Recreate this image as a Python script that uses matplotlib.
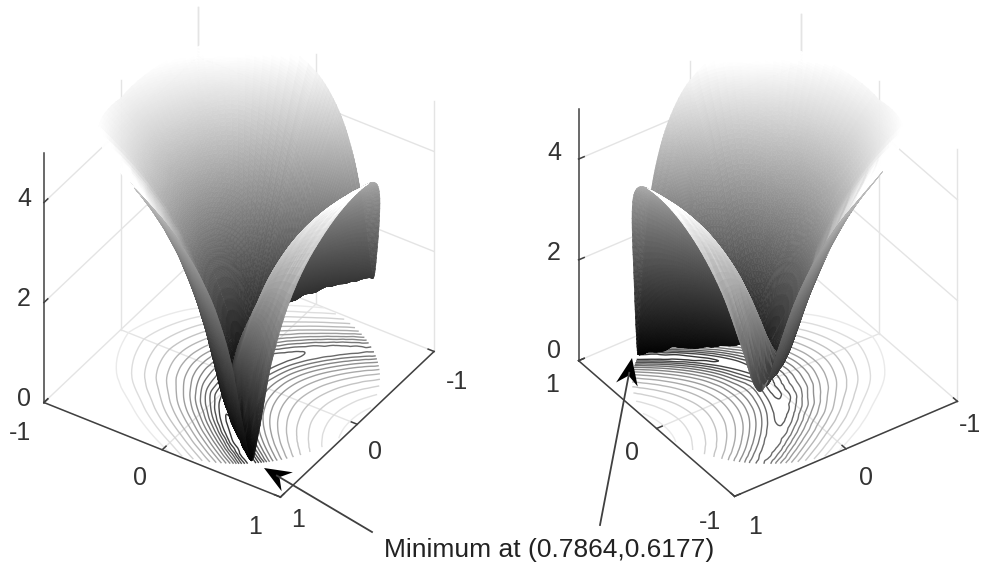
#!/usr/bin/env python3
"""Two views of a height surface over the unit disk, with contours on the floor."""

import matplotlib
matplotlib.use("Agg")
import matplotlib.pyplot as plt
import matplotlib.tri as mtri
import numpy as np
from mpl_toolkits.mplot3d.art3d import Poly3DCollection

W_PX, H_PX = 986, 565

# heights estimated on rings of the disk (rows) at fixed bearings in degrees (columns)
ring_radii = [0.0, 0.25, 0.375, 0.5, 0.625, 0.75, 0.825, 0.9, 1.0]
ring_angles = [-90, -60, -30, 0, 12, 18, 24, 30, 35, 38.2, 41, 46, 55, 70, 90,
               110, 125, 134, 139, 141.8, 145, 150, 156, 162, 168, 180, 210, 240, 270]
heights_r000 = [0.69] * 29
heights_r025 = [2.11, 1.97, 1.52, 0.67, 0.46, 0.48, 0.61, 0.80, 0.98, 1.10, 1.19, 1.37, 1.64, 1.95, 2.11,
                2.00, 1.74, 1.53, 1.40, 1.33, 1.25, 1.13, 1.02, 0.94, 0.94, 1.08, 1.69, 2.04, 2.11]
heights_r038 = [2.78, 2.68, 2.31, 1.21, 0.54, 0.35, 0.44, 0.76, 1.08, 1.28, 1.45, 1.73, 2.13, 2.57, 2.78,
                2.61, 2.23, 1.90, 1.69, 1.56, 1.43, 1.23, 1.08, 1.05, 1.16, 1.58, 2.43, 2.73, 2.78]
heights_r050 = [3.30, 3.26, 3.02, 2.01, 1.12, 0.58, 0.26, 0.54, 1.02, 1.32, 1.57, 1.96, 2.51, 3.05, 3.30,
                3.08, 2.60, 2.14, 1.85, 1.67, 1.48, 1.24, 1.14, 1.31, 1.62, 2.25, 3.10, 3.30, 3.30]
heights_r062 = [3.72, 3.74, 3.64, 2.80, 1.95, 1.32, 0.53, 0.22, 0.78, 1.21, 1.56, 2.09, 2.78, 3.43, 3.72,
                3.46, 2.87, 2.28, 1.90, 1.67, 1.44, 1.23, 1.38, 1.81, 2.25, 2.94, 3.69, 3.77, 3.72]
heights_r075 = [4.07, 4.16, 4.17, 3.49, 2.75, 2.17, 1.34, 0.29, 0.36, 0.92, 1.42, 2.12, 2.98, 3.75, 4.07,
                3.77, 3.07, 2.34, 1.86, 1.58, 1.36, 1.37, 1.88, 2.45, 2.92, 3.57, 4.21, 4.18, 4.07]
heights_r082 = [4.25, 4.38, 4.46, 3.86, 3.17, 2.64, 1.87, 0.71, 0.13, 0.65, 1.25, 2.10, 3.08, 3.91, 4.25,
                3.93, 3.16, 2.35, 1.79, 1.51, 1.35, 1.59, 2.25, 2.84, 3.30, 3.92, 4.49, 4.40, 4.25]
heights_r090 = [4.42, 4.58, 4.73, 4.20, 3.57, 3.07, 2.36, 1.26, 0.13, 0.33, 1.01, 2.04, 3.15, 4.06, 4.42,
                4.08, 3.24, 2.32, 1.70, 1.44, 1.41, 1.89, 2.63, 3.22, 3.66, 4.25, 4.75, 4.60, 4.42]
heights_r100 = [4.63, 4.84, 5.06, 4.62, 4.04, 3.59, 2.96, 1.98, 0.68, 0.05, 0.59, 1.90, 3.23, 4.24, 4.63,
                4.26, 3.31, 2.25, 1.57, 1.43, 1.66, 2.37, 3.13, 3.69, 4.11, 4.65, 5.08, 4.85, 4.63]
contour_levels = [0.3, 0.6, 0.9, 1.2, 1.5, 1.8, 2.1, 2.4, 2.7, 3.0, 3.3, 3.6, 3.9, 4.2, 4.5]
xy_ticks = [-1, 0, 1]
z_ticks = [0, 2, 4]
min_label = "Minimum at (0.7864,0.6177)"

AX_COLOR = "#404040"
GRID_COLOR = "#e4e4e4"


def build_mesh():
    r = np.array(ring_radii)
    th = np.radians(ring_angles) * 0.5
    z = np.array([heights_r000, heights_r025, heights_r038, heights_r050, heights_r062,
                  heights_r075, heights_r082, heights_r090, heights_r100])
    tt, rr = np.meshgrid(th, r)
    nr, nt = z.shape
    idx = np.arange(nr * nt).reshape(nr, nt)
    tris = []
    for i in range(nr - 1):
        for j in range(nt - 1):
            tris.append([idx[i, j], idx[i + 1, j], idx[i + 1, j + 1]])
            tris.append([idx[i, j], idx[i + 1, j + 1], idx[i, j + 1]])
    # work in (bearing, radius) so the rim stays round after refining
    base = mtri.Triangulation(tt.ravel(), rr.ravel(), np.array(tris))
    interp = mtri.CubicTriInterpolator(base, z.ravel(), kind="geom")
    fine, fine_z = mtri.UniformTriRefiner(base).refine_field(z.ravel(), triinterpolator=interp, subdiv=3)
    fine_z = np.clip(fine_z, 0.0, None)
    fx = fine.y * np.cos(fine.x * 2)
    fy = fine.y * np.sin(fine.x * 2)
    return fx, fy, fine_z, fine.triangles


def add_surface(ax, fx, fy, fz, tris, az, el, aspect_z):
    p = np.column_stack([fx, fy, fz])
    verts = p[tris]
    scale = np.array([0.5, 0.5, aspect_z / 5.0])
    v = verts * scale
    n = np.cross(v[:, 1] - v[:, 0], v[:, 2] - v[:, 0])
    length = np.linalg.norm(n, axis=1)
    length[length == 0] = 1.0
    n = n / length[:, None]
    n = n * np.where(n[:, 2] < 0, -1.0, 1.0)[:, None]
    a, e = np.radians(az), np.radians(el)
    cam = np.array([np.cos(e) * np.cos(a), np.cos(e) * np.sin(a), np.sin(e)])
    facing = n @ cam
    level = verts[:, :, 2].mean(axis=1) / 5.0
    grey = np.where(facing < 0, level * 0.75, 1.04 * level ** 1.1)
    # faces seen at a grazing angle catch the light
    glow = np.clip(1 - facing / 0.4, 0, 1)
    grey = np.where(facing > 0, grey + 0.22 * glow, grey)
    colors = plt.cm.gray(np.clip(grey, 0, 1))
    coll = Poly3DCollection(verts, facecolors=colors, edgecolors=colors, linewidths=0.35,
                            zorder=5, zsort="average")
    ax.add_collection3d(coll)


def draw_box(ax, corner_l, corner_f, corner_r, corner_b):
    """corner_* are (x, y) of the left, front, right and back floor corners."""
    zmax = 5
    grid_kw = dict(color=GRID_COLOR, lw=1.0, zorder=1, clip_on=False)
    for t in xy_ticks:
        ax.plot([t, t], [-1, 1], [0, 0], **grid_kw)
        ax.plot([-1, 1], [t, t], [0, 0], **grid_kw)
    # back walls
    for a, b in [(corner_l, corner_b), (corner_b, corner_r)]:
        a, b = np.array(a, float), np.array(b, float)
        for f in (0.0, 0.5, 1.0):
            c = a + (b - a) * f
            if f == 0.0 and tuple(a) == tuple(corner_l):
                continue
            ax.plot([c[0], c[0]], [c[1], c[1]], [0, zmax], **grid_kw)
        for z in z_ticks[1:]:
            ax.plot([a[0], b[0]], [a[1], b[1]], [z, z], **grid_kw)
    axis_kw = dict(color=AX_COLOR, lw=1.1, zorder=3, clip_on=False)
    lx, ly = corner_l
    fx, fy = corner_f
    rx, ry = corner_r
    ax.plot([lx, lx], [ly, ly], [0, zmax], **axis_kw)
    ax.plot([lx, fx], [ly, fy], [0, 0], **axis_kw)
    ax.plot([fx, rx], [fy, ry], [0, 0], **axis_kw)
    # ticks
    l, f, r = np.array(corner_l, float), np.array(corner_f, float), np.array(corner_r, float)
    inward_a = (r - f) * 0.025
    inward_b = (l - f) * 0.025
    for s in (0.0, 0.5, 1.0):
        p = l + (f - l) * s
        ax.plot([p[0], p[0] + inward_a[0]], [p[1], p[1] + inward_a[1]], [0, 0], **axis_kw)
        p = f + (r - f) * s
        ax.plot([p[0], p[0] + inward_b[0]], [p[1], p[1] + inward_b[1]], [0, 0], **axis_kw)
    for z in z_ticks:
        ax.plot([lx, lx + inward_a[0]], [ly, ly + inward_a[1]], [z, z], **axis_kw)


def make_panel(fig, mesh, center_px, edge_px, az, el, aspect_z, corners):
    size = 760
    # the 3D axes puts the box centre at 0.95/1.85 of its width and height
    frac = 0.95 / 1.85
    left = center_px[0] - frac * size
    bottom = (H_PX - center_px[1]) - frac * size
    ax = fig.add_axes([left / W_PX, bottom / H_PX, size / W_PX, size / H_PX],
                      projection="3d", proj_type="ortho", computed_zorder=False)
    ax.set_xlim(-1, 1, view_margin=0)
    ax.set_ylim(-1, 1, view_margin=0)
    ax.set_zlim(0, 5, view_margin=0)
    norm = np.sqrt(2 + aspect_z ** 2)
    zoom = edge_px * 0.185 * 10 / (size * 1.8294640721620434 * 25 / 24) * norm
    ax.set_box_aspect((1, 1, aspect_z), zoom=zoom)
    ax.view_init(elev=el, azim=az)
    ax.set_axis_off()
    ax.patch.set_alpha(0)

    fx, fy, fz, tris = mesh
    draw_box(ax, *corners)
    tri = mtri.Triangulation(fx, fy, tris)
    ax.tricontour(tri, fz, levels=contour_levels, zdir="z", offset=0, cmap="gray",
                  vmin=-1, vmax=5, linewidths=1.0, zorder=2)
    add_surface(ax, fx, fy, fz, tris, az, el, aspect_z)
    return ax


def stealth_arrow(ax, tip, tail):
    tip, tail = np.array(tip, float), np.array(tail, float)
    u = (tail - tip) / np.linalg.norm(tail - tip)
    v = np.array([-u[1], u[0]])
    ax.plot([tip[0] + u[0] * 15, tail[0]], [tip[1] + u[1] * 15, tail[1]], color="#404040", lw=1.3)
    head = [tip, tip + u * 27 + v * 11, tip + u * 18, tip + u * 27 - v * 11]
    ax.fill(*zip(*head), color="black", lw=0)


def main():
    plt.rcParams["font.family"] = ["Liberation Sans", "DejaVu Sans"]
    fig = plt.figure(figsize=(W_PX / 100, H_PX / 100), dpi=100, facecolor="white")
    mesh = build_mesh()

    make_panel(fig, mesh, (239, 252), 282, 33, 38, 1.125,
               ((1, -1), (1, 1), (-1, 1), (-1, -1)))
    make_panel(fig, mesh, (768, 255), 272, 145, 37.5, 1.168,
               ((1, 1), (-1, 1), (-1, -1), (1, -1)))

    over = fig.add_axes([0, 0, 1, 1])
    over.set_xlim(0, W_PX)
    over.set_ylim(H_PX, 0)
    over.axis("off")
    over.patch.set_alpha(0)

    txt = dict(fontsize=18, color="#333333", ha="center", va="center")
    # left panel labels
    for value, pos in zip(z_ticks, [(24, 399), (24, 299), (24, 199)]):
        over.text(*pos, str(value), **txt)
    for value, pos in zip(xy_ticks, [(20, 433), (140, 478), (255, 527)]):
        over.text(*pos, str(value), **txt)
    for value, pos in zip(reversed(xy_ticks), [(298, 520), (375, 452), (457, 382)]):
        over.text(*pos, str(value), **txt)
    # right panel labels
    for value, pos in zip(z_ticks, [(554, 351), (554, 253), (554, 153)]):
        over.text(*pos, str(value), **txt)
    for value, pos in zip(reversed(xy_ticks), [(552, 385), (632, 453), (710, 522)]):
        over.text(*pos, str(value), **txt)
    for value, pos in zip(reversed(xy_ticks), [(755, 527), (866, 478), (970, 425)]):
        over.text(*pos, str(value), **txt)

    over.text(549, 550, min_label, fontsize=19, color="#222222", ha="center", va="center")
    stealth_arrow(over, (264, 468), (372, 532))
    stealth_arrow(over, (632, 358), (600, 525))

    fig.savefig("out.png", dpi=100, facecolor="white")


if __name__ == "__main__":
    main()
